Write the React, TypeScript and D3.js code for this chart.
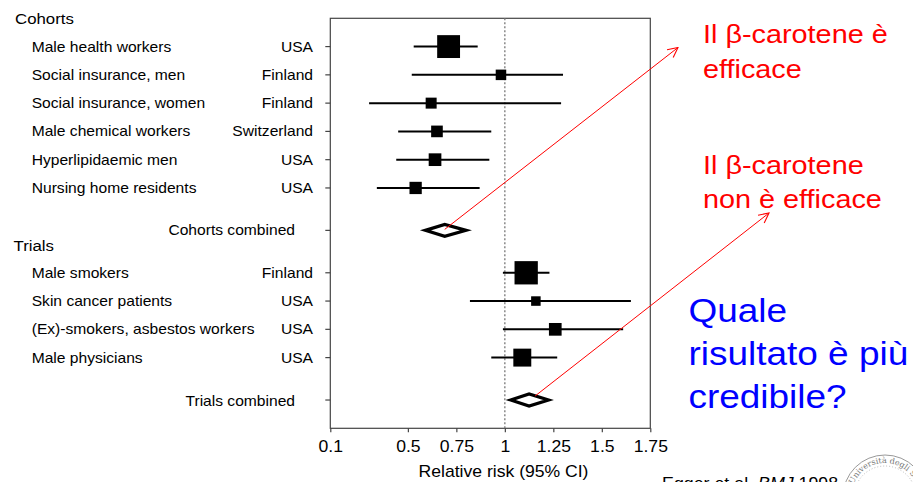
import React, { useEffect, useRef } from "react";
import * as d3 from "d3";

const width = 913;
const height = 482;
const font = "'Liberation Sans', Arial, sans-serif";
const stretch = 1.1; // source picture is a bit wider than tall

// cohort studies
const cohortNames = [
  "Male health workers",
  "Social insurance, men",
  "Social insurance, women",
  "Male chemical workers",
  "Hyperlipidaemic men",
  "Nursing home residents"
];
const cohortCountries = ["USA", "Finland", "Finland", "Switzerland", "USA", "USA"];
const cohortRR = [0.71, 0.98, 0.62, 0.65, 0.64, 0.54];
const cohortLow = [0.53, 0.52, 0.3, 0.45, 0.44, 0.34];
const cohortHigh = [0.86, 1.3, 1.29, 0.93, 0.92, 0.87];
const cohortWeight = [52, 11, 12, 13.5, 16, 15];
const cohortsCombined = { rr: 0.69, low: 0.59, high: 0.8 };

// randomised trials
const trialNames = [
  "Male smokers",
  "Skin cancer patients",
  "(Ex)-smokers, asbestos workers",
  "Male physicians"
];
const trialCountries = ["Finland", "USA", "USA", "USA"];
const trialRR = [1.11, 1.16, 1.26, 1.09];
const trialLow = [0.99, 0.82, 0.99, 0.93];
const trialHigh = [1.23, 1.65, 1.61, 1.27];
const trialWeight = [54, 9, 16, 32];
const trialsCombined = { rr: 1.125, low: 1.03, high: 1.225 };

const xTicks = [0.1, 0.5, 0.75, 1, 1.25, 1.5, 1.75];

const plot = { left: 330.3, right: 650.3, top: 18.3, bottom: 428.3 };

const x = d3.scaleLinear().domain([0.1, 1.75]).range([plot.left, plot.right]);
// one unit = one row of the table
const y = d3.scaleLinear().domain([-1, 13.5]).range([plot.top, plot.bottom]);
const size = d3.scaleSqrt().domain([0, 54]).range([0, 23.3]);

// row slots: header, studies, combined
const cohortRows = cohortNames.map((_, i) => i);
const cohortCombinedRow = cohortNames.length + 0.5;
const trialHeaderRow = cohortNames.length + 1;
const trialRows = trialNames.map((_, i) => trialHeaderRow + 1 + i);
const trialCombinedRow = trialHeaderRow + trialNames.length + 1.5;

const diamond = (d: { rr: number; low: number; high: number }, row: number) => {
  const cy = y(row);
  return `M${x(d.low)},${cy}L${x(d.rr)},${cy - 6}L${x(d.high)},${cy}L${x(d.rr)},${cy + 6}Z`;
};

function Label({ tx, ty, anchor = "start", size: fs = 14.2, fill = "#000", children }: any) {
  return (
    <text
      transform={`translate(${tx},${ty}) scale(${stretch},1)`}
      textAnchor={anchor}
      fontSize={fs}
      fill={fill}
      fontFamily={font}
    >
      {children}
    </text>
  );
}

function Study({ name, country, rr, low, high, w, row }: any) {
  const cy = y(row);
  const s = size(w);
  return (
    <g>
      <Label tx={31.7} ty={cy + 5}>{name}</Label>
      <Label tx={313} ty={cy + 5} anchor="end">{country}</Label>
      <line x1={x(low)} x2={x(high)} y1={cy} y2={cy} stroke="#000" strokeWidth={2} />
      <rect x={x(rr) - s / 2} y={cy - s / 2} width={s} height={s} fill="#000" />
    </g>
  );
}

export default function App() {
  const xAxisRef = useRef<SVGGElement>(null);

  useEffect(() => {
    const axis = d3
      .axisBottom(x)
      .tickValues(xTicks)
      .tickFormat((d) => `${d}`)
      .tickSize(4)
      .tickSizeOuter(0);
    const g = d3.select(xAxisRef.current);
    g.call(axis as any);
    g.select(".domain").remove();
    g.selectAll(".tick line").attr("stroke", "#444").attr("stroke-width", 1.2);
    g.selectAll(".tick text")
      .attr("y", 0)
      .attr("dy", 0)
      .attr("transform", `translate(0,23.5) scale(${stretch},1)`)
      .attr("font-size", 16)
      .attr("font-family", font)
      .attr("fill", "#000");
  }, []);

  const leftTicks = [...cohortRows, cohortCombinedRow, ...trialRows, trialCombinedRow];

  const arrow1Start = [x(cohortsCombined.rr), y(cohortCombinedRow) - 1];
  const arrow2Start = [x(trialsCombined.rr) + 6, y(trialCombinedRow) - 4];

  return (
    <svg
      width={width}
      height={height}
      style={{ position: "absolute", left: 0, top: 0, background: "#fff" }}
    >
      <defs>
        <marker
          id="head"
          viewBox="0 0 12 12"
          refX={11}
          refY={6}
          markerWidth={12}
          markerHeight={12}
          markerUnits="userSpaceOnUse"
          orient="auto"
        >
          <path d="M1,1L11,6L1,11" fill="none" stroke="#ff0000" strokeWidth={1.1} />
        </marker>
        <path id="seal" d="M851,497a34,34 0 1,1 68,0a34,34 0 1,1 -68,0" />
      </defs>

      {/* frame */}
      <rect
        x={plot.left}
        y={plot.top}
        width={plot.right - plot.left}
        height={plot.bottom - plot.top}
        fill="none"
        stroke="#444"
        strokeWidth={1.2}
      />
      <line
        x1={x(1)}
        x2={x(1)}
        y1={plot.top}
        y2={plot.bottom}
        stroke="#777"
        strokeWidth={1.3}
        strokeDasharray="2,2"
      />
      {leftTicks.map((r, i) => (
        <line key={i} x1={plot.left - 5} x2={plot.left} y1={y(r)} y2={y(r)} stroke="#444" strokeWidth={1.2} />
      ))}
      <g ref={xAxisRef} transform={`translate(0,${plot.bottom})`} />
      <Label tx={503.5} ty={477} anchor="middle" size={16}>Relative risk (95% CI)</Label>

      {/* table */}
      <Label tx={15} ty={y(-1) + 6} size={15.3}>Cohorts</Label>
      {cohortNames.map((n, i) => (
        <Study
          key={n}
          name={n}
          country={cohortCountries[i]}
          rr={cohortRR[i]}
          low={cohortLow[i]}
          high={cohortHigh[i]}
          w={cohortWeight[i]}
          row={cohortRows[i]}
        />
      ))}
      <Label tx={295} ty={y(cohortCombinedRow) + 4.5} anchor="end">Cohorts combined</Label>
      <path d={diamond(cohortsCombined, cohortCombinedRow)} fill="#fff" stroke="#000" strokeWidth={3.2} />

      <Label tx={13.5} ty={y(trialHeaderRow) + 6} size={15.3}>Trials</Label>
      {trialNames.map((n, i) => (
        <Study
          key={n}
          name={n}
          country={trialCountries[i]}
          rr={trialRR[i]}
          low={trialLow[i]}
          high={trialHigh[i]}
          w={trialWeight[i]}
          row={trialRows[i]}
        />
      ))}
      <Label tx={295} ty={y(trialCombinedRow) + 5.5} anchor="end">Trials combined</Label>
      <path d={diamond(trialsCombined, trialCombinedRow)} fill="#fff" stroke="#000" strokeWidth={3.2} />

      {/* annotations */}
      <line x1={arrow1Start[0]} y1={arrow1Start[1]} x2={678} y2={47.5} stroke="#ff0000" strokeWidth={1} markerEnd="url(#head)" />
      <line x1={arrow2Start[0]} y1={arrow2Start[1]} x2={769} y2={213} stroke="#ff0000" strokeWidth={1} markerEnd="url(#head)" />

      <Label tx={703} ty={43.3} size={26.2} fill="#ff0000">Il β-carotene è</Label>
      <Label tx={703} ty={77.5} size={26.2} fill="#ff0000">efficace</Label>
      <Label tx={703} ty={174} size={26.2} fill="#ff0000">Il β-carotene</Label>
      <Label tx={703} ty={208.3} size={26.2} fill="#ff0000">non è efficace</Label>

      <Label tx={688.5} ty={321.7} size={33.6} fill="#0000ff">Quale</Label>
      <Label tx={688.5} ty={364.5} size={33.6} fill="#0000ff">risultato è più</Label>
      <Label tx={688.5} ty={408.3} size={33.6} fill="#0000ff">credibile?</Label>

      {/* university seal */}
      <circle cx={885} cy={497} r={42} fill="#fff" stroke="#999" strokeWidth={1} />
      <circle cx={885} cy={497} r={31} fill="none" stroke="#aaa" strokeWidth={0.8} strokeDasharray="1,2" />
      <text fontSize={8} fill="#777" fontFamily="'DejaVu Serif', serif">
        <textPath href="#seal" startOffset="6%">Università degli Studi</textPath>
      </text>

      <Label tx={662} ty={488.5} size={16.2}>
        Egger et al. <tspan fontStyle="italic">BMJ</tspan> 1998
      </Label>
    </svg>
  );
}
